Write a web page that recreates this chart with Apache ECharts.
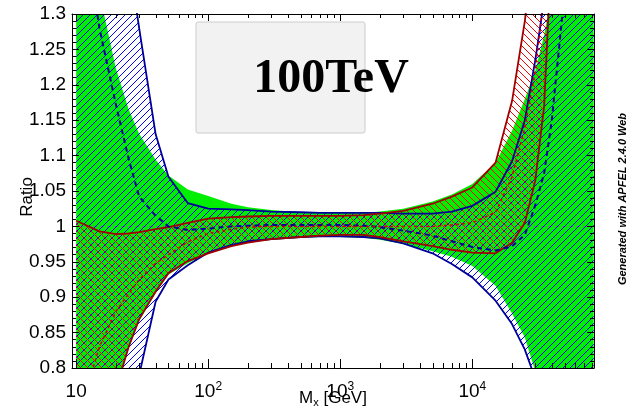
<!DOCTYPE html>
<html>
<head>
<meta charset="utf-8">
<script src="https://cdn.jsdelivr.net/npm/echarts@6/dist/echarts.min.js"></script>
<style>
html, body { margin: 0; padding: 0; background: #fff; }
#chart { width: 637px; height: 408px; }
</style>
</head>
<body>
<div id="chart"></div>
<script>
// M_x sample points [GeV]
var mass = [10, 15, 20, 25, 30, 40, 50, 70, 100, 150, 200, 300, 500, 700, 1000, 1500, 2000, 3000, 5000, 7000, 10000, 15000, 20000, 25000, 30000, 35000, 40000, 50000, 83000];

// green band (solid)
var greenUp = [1.45, 1.33, 1.223, 1.165, 1.131, 1.094, 1.072, 1.052, 1.043, 1.032, 1.027, 1.023, 1.020, 1.019, 1.019, 1.019, 1.021, 1.025, 1.035, 1.045, 1.06, 1.09, 1.135, 1.18, 1.22, 1.27, 1.33, 1.5, 1.9];
var greenLo = [0.55, 0.65, 0.765, 0.828, 0.866, 0.906, 0.932, 0.948, 0.962, 0.973, 0.978, 0.981, 0.984, 0.985, 0.985, 0.984, 0.981, 0.975, 0.965, 0.957, 0.944, 0.916, 0.877, 0.843, 0.795, 0.74, 0.68, 0.58, 0.35];

// blue band (hatched /)
var blueUp = [2.0, 1.7, 1.5, 1.38, 1.28, 1.13, 1.07, 1.033, 1.025, 1.024, 1.023, 1.021, 1.02, 1.019, 1.019, 1.019, 1.019, 1.018, 1.018, 1.021, 1.029, 1.049, 1.092, 1.15, 1.235, 1.32, 1.45, 1.7, 2.5];
var blueLo = [0.3, 0.45, 0.6, 0.72, 0.79, 0.894, 0.925, 0.945, 0.963, 0.974, 0.979, 0.982, 0.985, 0.986, 0.986, 0.985, 0.983, 0.976, 0.962, 0.947, 0.928, 0.895, 0.862, 0.826, 0.785, 0.74, 0.7, 0.6, 0.4];
var blueMid = [1.5, 1.28, 1.172, 1.095, 1.042, 1.015, 1.0, 0.995, 0.997, 1.0, 1.001, 1.002, 1.002, 1.002, 1.002, 1.001, 0.999, 0.994, 0.987, 0.979, 0.971, 0.966, 0.972, 0.988, 1.03, 1.075, 1.15, 1.33, 1.8];

// red band (hatched \)
var redUp = [1.008, 0.993, 0.989, 0.99, 0.992, 0.996, 0.999, 1.005, 1.011, 1.013, 1.014, 1.015, 1.015, 1.015, 1.015, 1.016, 1.018, 1.022, 1.032, 1.042, 1.055, 1.09, 1.177, 1.29, 1.42, 1.55, 1.7, 2.0, 3.0];
var redLo = [0.5, 0.66, 0.77, 0.83, 0.869, 0.908, 0.934, 0.951, 0.962, 0.972, 0.977, 0.982, 0.985, 0.987, 0.988, 0.988, 0.985, 0.979, 0.972, 0.967, 0.963, 0.962, 0.977, 1.005, 1.065, 1.17, 1.4, 1.7, 2.5];
var redMid = [0.72, 0.83, 0.88, 0.905, 0.925, 0.948, 0.96, 0.978, 0.99, 0.996, 0.999, 1.0, 1.0, 1.0, 1.0, 1.0, 1.0, 1.0, 1.0, 1.002, 1.005, 1.02, 1.07, 1.14, 1.22, 1.33, 1.45, 1.7, 2.5];

// axes
var xMin = 9.3, xMax = 83500;
var yMin = 0.8, yMax = 1.3, yStep = 0.05;
var xDecades = [1, 10, 100, 1000, 10000];
var xMinorMult = [2, 3, 4, 5, 6, 7, 8, 9];

var xMinor = [];
xDecades.forEach(function (d) {
    xMinorMult.forEach(function (k) {
        var v = k * d;
        if (v > xMin && v < xMax) xMinor.push(v);
    });
});

function hatch(color, dir) {
    var s = 7;
    var c = document.createElement('canvas');
    c.width = s; c.height = s;
    var ctx = c.getContext('2d');
    ctx.strokeStyle = color;
    ctx.lineWidth = 1;
    ctx.beginPath();
    if (dir > 0) {
        ctx.moveTo(0, s); ctx.lineTo(s, 0);
        ctx.moveTo(-1, 1); ctx.lineTo(1, -1);
        ctx.moveTo(s - 1, s + 1); ctx.lineTo(s + 1, s - 1);
    } else {
        ctx.moveTo(0, 0); ctx.lineTo(s, s);
        ctx.moveTo(-1, s - 1); ctx.lineTo(1, s + 1);
        ctx.moveTo(s - 1, -1); ctx.lineTo(s + 1, 1);
    }
    ctx.stroke();
    return { image: c, repeat: 'repeat' };
}

function pairs(vals) {
    return mass.map(function (m, i) { return [m, vals[i]]; });
}

// filled band between lo and hi, one polygon through the axis scales
function band(lo, hi, fill, z) {
    return {
        type: 'custom', clip: true, silent: true, z: z,
        data: mass.map(function (m, i) { return [m, lo[i], hi[i]]; }),
        renderItem: function (params, api) {
            if (params.dataIndex !== 0) return null;
            var up = [], dn = [];
            for (var i = 0; i < mass.length; i++) {
                up.push(api.coord([mass[i], hi[i]]));
                dn.unshift(api.coord([mass[i], lo[i]]));
            }
            return { type: 'polygon', shape: { points: up.concat(dn) }, style: { fill: fill } };
        }
    };
}

function curve(vals, color, width, type, z) {
    return {
        type: 'line', data: pairs(vals), symbol: 'none', silent: true, z: z,
        lineStyle: { color: color, width: width, type: type }
    };
}

var font = '"Liberation Sans", Arial, Helvetica, sans-serif';
var chart = echarts.init(document.getElementById('chart'));

var blueUpLine = curve(blueUp, '#000099', 1.8, 'solid', 6);
blueUpLine.markLine = {
    symbol: 'none', silent: true, z: 2, label: { show: false },
    lineStyle: { color: '#777', type: [4, 3], width: 1 },
    data: [{ yAxis: 1 }]
};

var series = [
    band(greenLo, greenUp, '#00ee00', 1),
    band(blueLo, blueUp, hatch('#0000ff', 1), 3),
    band(redLo, redUp, hatch('#ff0000', -1), 4),
    blueUpLine,
    curve(blueLo, '#000099', 1.8, 'solid', 6),
    curve(redUp, '#a00000', 1.8, 'solid', 6),
    curve(redLo, '#a00000', 1.8, 'solid', 6),
    curve(blueMid, '#000099', 2, [5, 4], 7),
    curve(redMid, '#cc0000', 1.5, [3, 3], 7),
    {
        type: 'custom', silent: true, z: 20,
        data: xMinor.map(function (v) { return [v, yMin]; }),
        renderItem: function (params, api) {
            var b = api.coord([api.value(0), yMin]);
            var t = api.coord([api.value(0), yMax]);
            var x = Math.round(b[0]) + 0.5;
            return {
                type: 'group',
                children: [
                    { type: 'line', shape: { x1: x, y1: b[1], x2: x, y2: b[1] - 5 }, style: { stroke: '#000', lineWidth: 1 } },
                    { type: 'line', shape: { x1: x, y1: t[1], x2: x, y2: t[1] + 4 }, style: { stroke: '#000', lineWidth: 1 } }
                ]
            };
        }
    }
];

var option = {
    animation: false,
    textStyle: { fontFamily: font, color: '#000' },
    grid: { left: 72, right: 43, top: 14, bottom: 40, outerBoundsMode: 'none' },
    xAxis: [{
        type: 'log', logBase: 10, min: xMin, max: xMax, position: 'bottom', z: 10,
        name: '{a|M}{s|x}{a| [GeV]}', nameLocation: 'middle', nameGap: 20, nameMoveOverlap: false,
        nameTextStyle: {
            rich: {
                a: { fontSize: 17, lineHeight: 20, fontFamily: font, color: '#000' },
                s: { fontSize: 11, lineHeight: 11, verticalAlign: 'bottom', fontFamily: font, color: '#000' }
            }
        },
        splitLine: { show: false },
        axisLine: { lineStyle: { color: '#000', width: 1 } },
        axisTick: { inside: true, length: 9, lineStyle: { color: '#000' } },
        axisLabel: {
            margin: 13,
            formatter: function (v) {
                var l = Math.log10(v), p = Math.round(l);
                if (Math.abs(l - p) > 1e-6) return '';
                return p === 1 ? '{b|10}' : '{b|10}{s|' + p + '}';
            },
            rich: {
                b: { fontSize: 19, lineHeight: 22, fontFamily: font, color: '#000' },
                s: { fontSize: 12, lineHeight: 12, verticalAlign: 'top', fontFamily: font, color: '#000' }
            }
        }
    }, {
        type: 'log', logBase: 10, min: xMin, max: xMax, position: 'top', z: 10,
        splitLine: { show: false },
        axisLine: { lineStyle: { color: '#000', width: 1 } },
        axisTick: { inside: true, length: 7, lineStyle: { color: '#000' } },
        axisLabel: { show: false }
    }],
    yAxis: [{
        type: 'value', min: yMin, max: yMax, interval: yStep, position: 'left', z: 10,
        name: 'Ratio', nameLocation: 'middle', nameRotate: 90, nameGap: 36, nameMoveOverlap: false,
        nameTextStyle: { fontSize: 17, fontFamily: font, color: '#000', padding: [0, 12, 0, 0] },
        splitLine: { show: false },
        axisLine: { show: true, lineStyle: { color: '#000', width: 1 } },
        axisTick: { inside: true, length: 7, lineStyle: { color: '#000' } },
        minorTick: { show: true, splitNumber: 5, length: 4, lineStyle: { color: '#000' } },
        axisLabel: { margin: 6, fontSize: 19, fontFamily: font, color: '#000' }
    }, {
        type: 'value', min: yMin, max: yMax, interval: yStep, position: 'right', z: 10,
        splitLine: { show: false },
        axisLine: { show: true, lineStyle: { color: '#000', width: 1 } },
        axisTick: { inside: true, length: 7, lineStyle: { color: '#000' } },
        minorTick: { show: true, splitNumber: 5, length: 4, lineStyle: { color: '#000' } },
        axisLabel: { show: false }
    }],
    graphic: [{
        type: 'rect', z: 50,
        shape: { x: 196, y: 22, width: 169, height: 111, r: 2 },
        style: { fill: '#f2f2f2', stroke: '#cccccc', lineWidth: 1 }
    }, {
        type: 'text', z: 51, x: 331, y: 80,
        style: {
            text: '100TeV', font: 'bold 48px "Liberation Serif", "Times New Roman", serif',
            fill: '#000', textAlign: 'center', textVerticalAlign: 'middle', align: 'center', verticalAlign: 'middle'
        }
    }, {
        type: 'text', z: 51, x: 623, y: 199, rotation: Math.PI / 2,
        style: {
            text: 'Generated with APFEL 2.4.0 Web', font: 'italic bold 11px ' + font,
            fill: '#000', textAlign: 'center', textVerticalAlign: 'middle', align: 'center', verticalAlign: 'middle'
        }
    }],
    series: series
};

chart.setOption(option);
</script>
</body>
</html>
